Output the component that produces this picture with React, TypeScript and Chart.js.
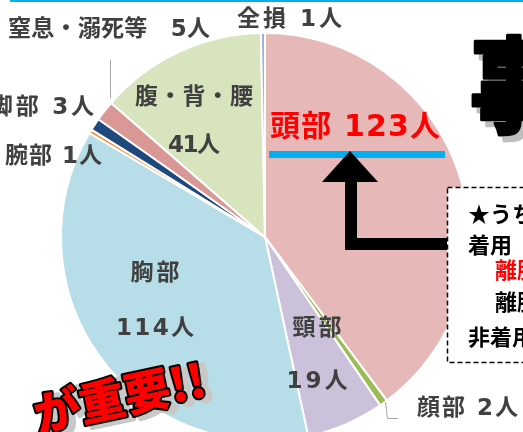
import React, { useEffect, useRef } from 'react';
import { Chart, registerables } from 'chart.js';

Chart.register(...registerables);

// ---- data ----
const categories = ['頭部', '顔部', '頸部', '胸部', '腕部', '脚部', '窒息・溺死等', '腹・背・腰', '全損'];
const values = [123, 2, 19, 114, 1, 3, 5, 41, 1];
const unit = '人';
const sliceColors = ['#E6B9B8', '#9BBB59', '#CCC1DA', '#B7DDE8', '#F79646', '#1F497D', '#D99795', '#D7E4BD', '#95B3D7'];

// box / overlay texts
const boxLines = ['★うち', '着用', '離脱', '離脱', '非着用'];
const titleText = '事';
const sloganText = 'が重要!!';

// ---- label layout (positions, not data) ----
type LabelLayout = {
  i: number;
  two: boolean;
  x: number;
  y: number[];
  w: number[];
  align: 'left' | 'center' | 'right';
  size?: number;
  color?: string;
  sep?: string;
};
const LABELS: LabelLayout[] = [
  { i: 0, two: false, x: 270, y: [128], w: [170], align: 'left', size: 30, color: '#FF0000' },
  { i: 1, two: false, x: 417, y: [409], w: [101], align: 'left' },
  { i: 2, two: true, x: 317, y: [329, 382], w: [53, 61], align: 'center' },
  { i: 3, two: true, x: 155, y: [274, 329], w: [52, 78], align: 'center' },
  { i: 4, two: false, x: 5, y: [157], w: [97], align: 'left' },
  { i: 5, two: false, x: 94, y: [108], w: [104], align: 'right' },
  { i: 6, two: false, x: 8, y: [30], w: [202], align: 'left', sep: '　' },
  { i: 7, two: true, x: 194, y: [98, 146], w: [118, 52], align: 'center' },
  { i: 8, two: false, x: 237, y: [20], w: [105], align: 'left' },
];

const FONT = '"DejaVu Sans", "Noto Sans CJK JP", "Noto Sans CJK SC", sans-serif';
const CJK = '"Noto Sans CJK JP", "Noto Sans CJK SC", sans-serif';

function drawFit(ctx: CanvasRenderingContext2D, text: string, x: number, y: number, target: number, align: string) {
  const chars = Array.from(text);
  const ws = chars.map((c) => ctx.measureText(c).width);
  const natural = ws.reduce((a, b) => a + b, 0);
  let gap = chars.length > 1 ? (target - natural) / (chars.length - 1) : 0;
  gap = Math.max(-2, Math.min(3, gap));
  const total = natural + gap * (chars.length - 1);
  let sx = x;
  if (align === 'center') sx = x - total / 2;
  else if (align === 'right') sx = x - total;
  ctx.textAlign = 'left';
  chars.forEach((c, k) => {
    ctx.fillText(c, sx, y);
    sx += ws[k] + gap;
  });
}

const overlayPlugin = {
  id: 'overlay',
  afterDraw(chart: any) {
    const ctx: CanvasRenderingContext2D = chart.ctx;
    ctx.save();

    // top blue rule
    ctx.fillStyle = '#00B0F0';
    ctx.fillRect(10, 0, 513, 2);

    // leader lines
    ctx.strokeStyle = '#A6A6A6';
    ctx.lineWidth = 1;
    ctx.beginPath();
    ctx.moveTo(110.5, 60);
    ctx.lineTo(110.5, 98);
    ctx.moveTo(385.5, 402);
    ctx.lineTo(387.5, 418.5);
    ctx.lineTo(398, 418.5);
    ctx.stroke();

    // data labels
    ctx.textBaseline = 'middle';
    LABELS.forEach((L) => {
      const cat = categories[L.i];
      const val = `${values[L.i]}${unit}`;
      ctx.font = `bold ${L.size || 23}px ${FONT}`;
      ctx.fillStyle = L.color || '#404040';
      if (L.two) {
        drawFit(ctx, cat, L.x, L.y[0], L.w[0], L.align);
        drawFit(ctx, val, L.x, L.y[1], L.w[1], L.align);
      } else {
        drawFit(ctx, `${cat}${L.sep || ' '}${val}`, L.x, L.y[0], L.w[0], L.align);
      }
    });

    // blue underline under head label
    ctx.fillStyle = '#00B0F0';
    ctx.fillRect(269, 151, 176, 7);

    // arrow
    ctx.fillStyle = '#000000';
    ctx.beginPath();
    ctx.moveTo(350, 151);
    ctx.lineTo(378, 182);
    ctx.lineTo(357, 182);
    ctx.lineTo(357, 238);
    ctx.lineTo(448, 238);
    ctx.lineTo(448, 250);
    ctx.lineTo(345, 250);
    ctx.lineTo(345, 182);
    ctx.lineTo(322, 182);
    ctx.closePath();
    ctx.fill();

    // dashed box
    ctx.fillStyle = '#FFFFFF';
    ctx.fillRect(447, 187, 120, 175);
    ctx.strokeStyle = '#000000';
    ctx.lineWidth = 1.5;
    ctx.setLineDash([5, 3]);
    ctx.strokeRect(447.5, 187.5, 120, 175);
    ctx.setLineDash([]);

    ctx.font = `bold 22px ${CJK}`;
    ctx.textAlign = 'left';
    const boxPos = [
      [468, 214, '#000000'],
      [468, 245, '#000000'],
      [495, 270, '#FF0000'],
      [495, 302, '#000000'],
      [468, 337, '#000000'],
    ];
    boxLines.forEach((t, k) => {
      ctx.fillStyle = boxPos[k][2] as string;
      ctx.fillText(t, boxPos[k][0] as number, boxPos[k][1] as number);
    });

    // big title char
    ctx.save();
    ctx.font = `900 104px ${CJK}`;
    ctx.textBaseline = 'middle';
    ctx.translate(470, 85);
    ctx.scale(0.85, 1);
    ctx.lineJoin = 'round';
    ctx.fillStyle = '#BFBFBF';
    ctx.strokeStyle = '#BFBFBF';
    ctx.lineWidth = 3;
    ctx.strokeText(titleText, 6, 6);
    ctx.fillText(titleText, 6, 6);
    ctx.fillStyle = '#000000';
    ctx.strokeStyle = '#000000';
    ctx.strokeText(titleText, 0, 0);
    ctx.fillText(titleText, 0, 0);
    ctx.restore();

    // slogan
    ctx.save();
    ctx.translate(38, 432);
    ctx.rotate((-12 * Math.PI) / 180);
    ctx.font = `900 46px ${CJK}`;
    ctx.textBaseline = 'alphabetic';
    ctx.lineJoin = 'round';
    ctx.fillStyle = '#C8C8C8';
    ctx.strokeStyle = '#C8C8C8';
    ctx.lineWidth = 5;
    ctx.strokeText(sloganText, 6, 4);
    ctx.fillText(sloganText, 6, 4);
    ctx.strokeStyle = '#000000';
    ctx.lineWidth = 4;
    ctx.strokeText(sloganText, 0, 0);
    ctx.fillStyle = '#FF0000';
    ctx.fillText(sloganText, 0, 0);
    ctx.restore();

    ctx.restore();
  },
};

export default function App() {
  const ref = useRef<HTMLCanvasElement>(null);
  useEffect(() => {
    const canvas = ref.current;
    if (!canvas) return;
    const chart = new Chart(canvas, {
      type: 'pie',
      data: {
        labels: categories,
        datasets: [
          {
            data: values,
            backgroundColor: sliceColors,
            borderColor: '#FFFFFF',
            borderWidth: 2,
          },
        ],
      },
      options: {
        responsive: false,
        animation: false,
        devicePixelRatio: 1,
        layout: { padding: { left: 60, right: 53, top: 32, bottom: 18 } },
        plugins: { legend: { display: false }, tooltip: { enabled: false } },
      },
      plugins: [overlayPlugin],
    } as any);
    return () => chart.destroy();
  }, []);
  return (
    <div
      style={{
        position: 'fixed',
        left: 0,
        top: 0,
        width: 523,
        height: 432,
        overflow: 'hidden',
        background: '#FFFFFF',
      }}
    >
      <canvas ref={ref} width={523} height={460} style={{ display: 'block', width: 523, height: 460 }} />
    </div>
  );
}
